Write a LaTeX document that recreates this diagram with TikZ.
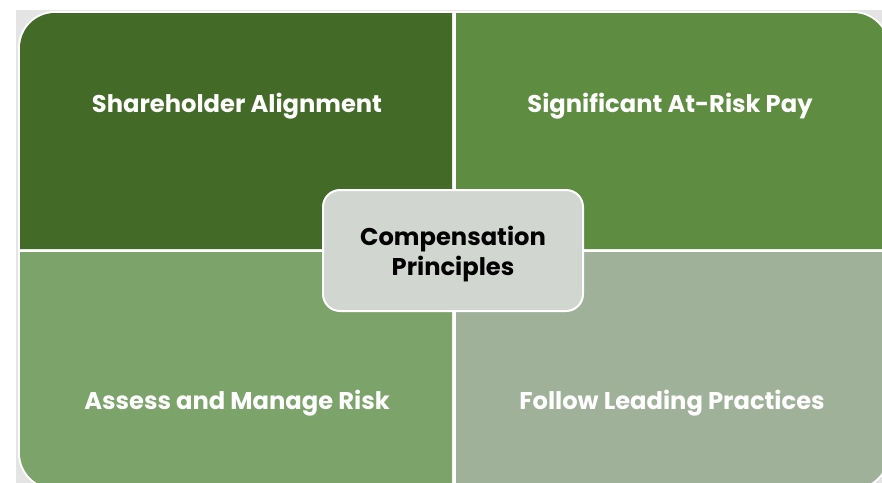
\documentclass[tikz,border=0pt]{standalone}
\usepackage{fontspec}
\setmainfont{Poppins}
\definecolor{bggray}{HTML}{E4E4E4}
\definecolor{qtl}{HTML}{436A26}
\definecolor{qtr}{HTML}{5E8C40}
\definecolor{qbl}{HTML}{7BA36A}
\definecolor{qbr}{HTML}{A0B19A}
\definecolor{cbox}{HTML}{D1D7D0}
\begin{document}
\begin{tikzpicture}[x=1pt,y=-1pt,
  qlabel/.style={text=white,font=\fontsize{24.2}{28}\selectfont\bfseries,inner sep=0pt},
  clabel/.style={text=black,font=\fontsize{24.2}{30}\selectfont\bfseries,align=center,inner sep=0pt}]
\useasboundingbox (0,0) rectangle (882,482);
\clip (0,0) rectangle (882,482);
\fill[bggray] (16,10) rectangle (900,500);
\fill[white,rounded corners=37] (18,11) rectangle (890,490);
% quadrants
\fill[qtl] (452,249) -- (20,249) [rounded corners=35] -- (20,13) [sharp corners] -- (452,13) -- cycle;
\fill[qtr] (456,249) -- (456,13) [rounded corners=35] -- (888,13) [sharp corners] -- (888,249) -- cycle;
\fill[qbl] (452,252) -- (20,252) [rounded corners=35] -- (20,488) [sharp corners] -- (452,488) -- cycle;
\fill[qbr] (456,252) -- (456,488) [rounded corners=35] -- (888,488) [sharp corners] -- (888,252) -- cycle;
% center box
\node[draw=white,line width=2pt,fill=cbox,rounded corners=17,minimum width=260pt,minimum height=121pt,inner sep=0pt] (center) at (453,250.5) {};
\node[clabel] (ctext) at (453,254) {Compensation\\Principles};
% labels
\node[qlabel] (tl) at (237,106) {Shareholder Alignment};
\node[qlabel] (tr) at (670,106) {Significant At-Risk Pay};
\node[qlabel] (bl) at (237,403) {Assess and Manage Risk};
\node[qlabel] (br) at (672,403) {Follow Leading Practices};
\end{tikzpicture}
\end{document}
